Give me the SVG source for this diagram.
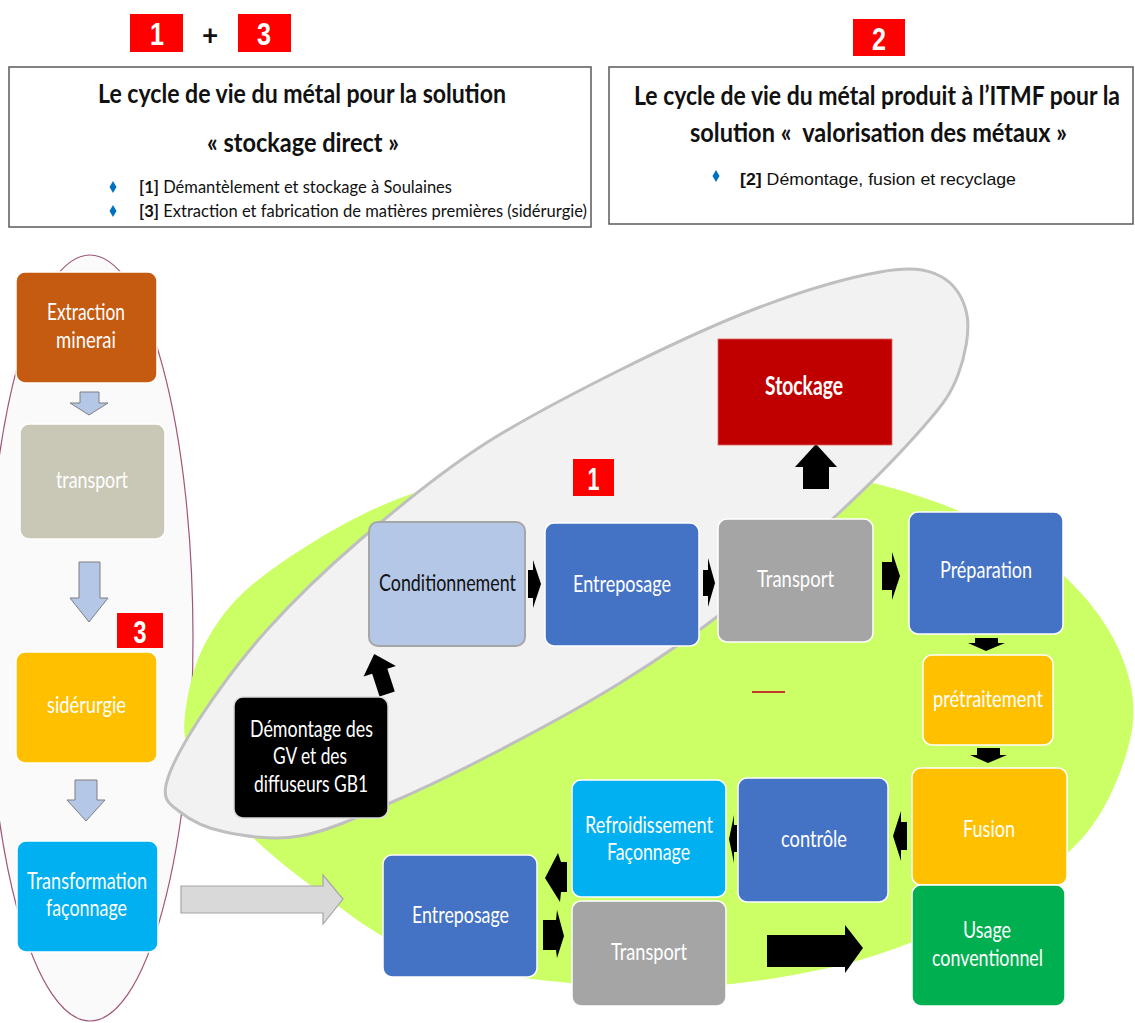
<svg xmlns="http://www.w3.org/2000/svg" width="1135" height="1023" viewBox="0 0 1135 1023">
  <style>
    .f { font-family: Lato, "Open Sans", "Liberation Sans", sans-serif; }
    .ttl { font-size: 27px; font-weight: bold; fill: #111; }
    .bul { font-size: 17px; fill: #111; }
    .bul2 { font-family: "Liberation Sans", Arial, sans-serif; font-size: 17px; fill: #111; }
    .lbl { font-size: 23px; fill: #fff; }
    .dark { fill: #111; }
    .big { font-size: 27px; font-weight: bold; }
    .badge { fill: #FF0000; }
    .bt { font-family: "Liberation Sans", Arial, sans-serif; font-weight: bold; font-size: 31px; fill: #fff; text-anchor: middle; }
    .frame { fill: #fff; stroke: #595959; stroke-width: 1.5; }
    .box { stroke: #fff; stroke-width: 1.5; }
    .diam { fill: #0070C0; }
    .blk { fill: #000; }
    .pale { fill: #B4C7E7; stroke: #7F7F7F; stroke-width: 1; }
  </style>

  <rect width="1135" height="1023" fill="#fff"/>

  <!-- header: two legend frames with their badges -->
  <g id="legend-direct">
    <rect class="badge" x="130" y="14" width="53" height="38"/>
    <text class="bt" x="157" y="45" textLength="14" lengthAdjust="spacingAndGlyphs">1</text>
    <text class="f" x="210" y="45" font-size="28" font-weight="bold" text-anchor="middle" fill="#111">+</text>
    <rect class="badge" x="238" y="14" width="53" height="38"/>
    <text class="bt" x="264" y="45" textLength="14" lengthAdjust="spacingAndGlyphs">3</text>
    <rect class="frame" x="9" y="67" width="582" height="160"/>
    <text class="f ttl" x="98" y="103" textLength="408" lengthAdjust="spacingAndGlyphs">Le cycle de vie du métal pour la solution</text>
    <text class="f ttl" x="207" y="152" textLength="192" lengthAdjust="spacingAndGlyphs">« stockage direct »</text>
    <polygon class="diam" points="113,181 116.5,187 113,193 109.5,187"/>
    <text class="f bul" x="139" y="193" textLength="313" lengthAdjust="spacingAndGlyphs"><tspan font-weight="bold">[1]</tspan> Démantèlement et stockage à Soulaines</text>
    <polygon class="diam" points="113,205 116.5,211 113,217 109.5,211"/>
    <text class="f bul" x="139" y="217" textLength="448" lengthAdjust="spacingAndGlyphs"><tspan font-weight="bold">[3]</tspan> Extraction et fabrication de matières premières (sidérurgie)</text>
  </g>

  <g id="legend-valorisation">
    <rect class="badge" x="853" y="19" width="52" height="37"/>
    <text class="bt" x="879" y="50" textLength="14" lengthAdjust="spacingAndGlyphs">2</text>
    <rect class="frame" x="609" y="67" width="524" height="157"/>
    <!-- long heading line: condensed horizontally so it stays inside the frame -->
    <text class="f ttl" transform="translate(634,105) scale(0.72,1)" x="0" y="0" textLength="675" lengthAdjust="spacingAndGlyphs">Le cycle de vie du métal produit à l’ITMF pour la</text>
    <text class="f ttl" x="690" y="142" textLength="377" lengthAdjust="spacingAndGlyphs">solution «&#160; valorisation des métaux »</text>
    <polygon class="diam" points="716,170 719.5,176 716,182 712.5,176"/>
    <text class="bul2" x="740" y="185" textLength="276" lengthAdjust="spacingAndGlyphs"><tspan font-weight="bold">[2]</tspan> Démontage, fusion et recyclage</text>
  </g>

  <!-- background zones -->
  <g id="zones">
    <ellipse cx="90" cy="638" rx="103" ry="383" fill="#FAFAFA" stroke="#A0557A" stroke-width="1.2"/>
    <path fill="#CCFF66" d="M185 715 C187.3 695,193.3 663.7,207 640 C220.7 616.3,234.8 596.7,267 573 C299.2 549.3,351.2 516.5,400 498 C448.8 479.5,506.7 468,560 462 C613.3 456,667.8 458.5,720 462 C772.2 465.5,826.3 471.7,873 483 C919.7 494.3,965.5 511.8,1000 530 C1034.5 548.2,1059.2 569.5,1080 592 C1100.8 614.5,1116.7 640.3,1125 665 C1133.3 689.7,1136.7 711.7,1130 740 C1123.3 768.3,1108.3 807.5,1085 835 C1061.7 862.5,1027.5 884.2,990 905 C952.5 925.8,908.3 946.3,860 960 C811.7 973.7,750 983.3,700 987 C650 990.7,606.7 987.3,560 982 C513.3 976.7,461.7 971.2,420 955 C378.3 938.8,341.7 908.3,310 885 C278.3 861.7,249.5 835.8,230 815 C210.5 794.2,200.5 776.7,193 760 C185.5 743.3,182.7 735,185 715 Z"/>
    <path fill="#F2F2F2" stroke="#BFBFBF" stroke-width="3" d="M166 785 C169.3 769.3,183.2 743.8,200 718 C216.8 692.2,240.3 659.7,267 630 C293.7 600.3,324.5 570.5,360 540 C395.5 509.5,436.7 475.3,480 447 C523.3 418.7,573.3 393.3,620 370 C666.7 346.7,716.7 323.3,760 307 C803.3 290.7,850 277.2,880 272 C910 266.8,925.5 268.8,940 276 C954.5 283.2,964 298.5,967 315 C970 331.5,965 356.7,958 375 C951 393.3,944.7 402.2,925 425 C905.3 447.8,872.5 481.7,840 512 C807.5 542.3,766.7 578.5,730 607 C693.3 635.5,658.3 659.2,620 683 C581.7 706.8,538.3 730,500 750 C461.7 770,423.3 788.7,390 803 C356.7 817.3,327.5 831.2,300 836 C272.5 840.8,245 836,225 832 C205 828,189.8 819.8,180 812 C170.2 804.2,162.7 800.7,166 785 Z"/>
    <line x1="752" y1="692" x2="785" y2="692" stroke="#C0392B" stroke-width="2"/>
  </g>

  <!-- connectors -->
  <g id="connectors">
    <polygon class="pale" points="80,392 99,392 99,403 108,403 89,415 70,403 80,403"/>
    <polygon class="pale" points="79,562 100,562 100,598 108,598 89,622 70,598 79,598"/>
    <polygon class="pale" points="75,780 97,780 97,800 105,800 86,821 67,800 75,800"/>
    <polygon fill="#D9D9D9" stroke="#A6A6A6" stroke-width="1.2" points="181,886 323,886 323,875 343,899 323,924 323,913 181,913"/>
    <polygon class="blk" transform="translate(381,675) rotate(-18)" points="0,-22 17,-4 8,-4 8,20 -8,20 -8,-4 -17,-4"/>
    <polygon class="blk" points="528,570 533,570 533,560 541,584 533,608 533,598 528,598"/>
    <polygon class="blk" points="703,570 708,570 708,558 715,583 708,607 708,596 703,596"/>
    <polygon class="blk" points="882,562 892,562 892,552 900,576 892,600 892,590 882,590"/>
    <polygon class="blk" points="803,489 803,467 795,467 816,444 837,467 829,467 829,489"/>
    <polygon class="blk" points="975,638 998,638 998,643 1005,643 986,651 968,643 975,643"/>
    <polygon class="blk" points="977,748 1000,748 1000,755 1007,755 988,763 970,755 977,755"/>
    <polygon class="blk" points="907,822 907,850 901,850 901,861 893,836 901,811 901,822"/>
    <polygon class="blk" points="737,825 737,852 734,852 734,863 729,839 734,815 734,825"/>
    <polygon class="blk" points="567,862 567,892 561,892 560,902 545,878 558,853 561,862"/>
    <polygon class="blk" points="543,920 556,920 557,910 564,936 557,958 556,950 543,950"/>
    <polygon class="blk" points="767,935 845,935 845,925 863,948 845,973 845,967 767,967"/>
  </g>

  <!-- extraction chain -->
  <g id="extraction">
    <rect class="box" x="16" y="272" width="141" height="111" rx="9" fill="#C55A11"/>
    <text class="f lbl" x="47" y="320" textLength="78" lengthAdjust="spacingAndGlyphs">Extraction</text>
    <text class="f lbl" x="56" y="348" textLength="60" lengthAdjust="spacingAndGlyphs">minerai</text>
  </g>
  <g id="transport-minerai">
    <rect class="box" x="20" y="424" width="145" height="115" rx="9" fill="#C9C7B6"/>
    <text class="f lbl" x="56" y="488" textLength="72" lengthAdjust="spacingAndGlyphs">transport</text>
  </g>
  <g id="badge-3">
    <rect class="badge" x="117" y="613" width="46" height="35"/>
    <text class="bt" x="140" y="643" textLength="13" lengthAdjust="spacingAndGlyphs">3</text>
  </g>
  <g id="siderurgie">
    <rect class="box" x="16" y="652" width="141" height="111" rx="9" fill="#FFC000"/>
    <text class="f lbl" x="47" y="713" textLength="79" lengthAdjust="spacingAndGlyphs">sidérurgie</text>
  </g>
  <g id="transformation">
    <rect class="box" x="17" y="841" width="141" height="111" rx="9" fill="#00B0F0"/>
    <text class="f lbl" x="27" y="889" textLength="120" lengthAdjust="spacingAndGlyphs">Transformation</text>
    <text class="f lbl" x="46" y="916" textLength="81" lengthAdjust="spacingAndGlyphs">façonnage</text>
  </g>

  <!-- dismantling and storage chain -->
  <g id="demontage">
    <rect x="234" y="697" width="154" height="121" rx="9" fill="#000" stroke="#D9D9D9" stroke-width="1.5"/>
    <text class="f lbl" x="250" y="737" textLength="123" lengthAdjust="spacingAndGlyphs">Démontage des</text>
    <text class="f lbl" x="273" y="764" textLength="74" lengthAdjust="spacingAndGlyphs">GV et des</text>
    <text class="f lbl" x="254" y="792" textLength="114" lengthAdjust="spacingAndGlyphs">diffuseurs GB1</text>
  </g>
  <g id="conditionnement">
    <rect x="369" y="522" width="156" height="124" rx="9" fill="#B4C7E7" stroke="#A6A6A6" stroke-width="2"/>
    <text class="f lbl dark" x="379" y="591" textLength="137" lengthAdjust="spacingAndGlyphs">Conditionnement</text>
  </g>
  <g id="entreposage-1">
    <rect class="box" x="545" y="523" width="154" height="123" rx="9" fill="#4472C4"/>
    <text class="f lbl" x="573" y="592" textLength="98" lengthAdjust="spacingAndGlyphs">Entreposage</text>
  </g>
  <g id="badge-1">
    <rect class="badge" x="573" y="459" width="41" height="37"/>
    <text class="bt" x="593.5" y="490" textLength="12" lengthAdjust="spacingAndGlyphs">1</text>
  </g>
  <g id="transport-1">
    <rect class="box" x="718" y="519" width="155" height="123" rx="9" fill="#A5A5A5"/>
    <text class="f lbl" x="757" y="587" textLength="77" lengthAdjust="spacingAndGlyphs">Transport</text>
  </g>
  <g id="stockage">
    <rect x="718" y="339" width="174" height="106" fill="#C00000" stroke="#E06666" stroke-width="0.8"/>
    <text class="f lbl big" x="765" y="395" textLength="78" lengthAdjust="spacingAndGlyphs">Stockage</text>
  </g>

  <!-- melting and recycling chain -->
  <g id="preparation">
    <rect class="box" x="909" y="512" width="154" height="122" rx="9" fill="#4472C4"/>
    <text class="f lbl" x="940" y="578" textLength="92" lengthAdjust="spacingAndGlyphs">Préparation</text>
  </g>
  <g id="pretraitement">
    <rect class="box" x="923" y="655" width="130" height="90" rx="9" fill="#FFC000"/>
    <text class="f lbl" x="933" y="707" textLength="110" lengthAdjust="spacingAndGlyphs">prétraitement</text>
  </g>
  <g id="fusion">
    <rect class="box" x="912" y="768" width="155" height="117" rx="9" fill="#FFC000"/>
    <text class="f lbl" x="963" y="837" textLength="52" lengthAdjust="spacingAndGlyphs">Fusion</text>
  </g>
  <g id="usage">
    <rect class="box" x="912" y="885" width="153" height="121" rx="9" fill="#00B050"/>
    <text class="f lbl" x="963" y="938" textLength="48" lengthAdjust="spacingAndGlyphs">Usage</text>
    <text class="f lbl" x="932" y="966" textLength="111" lengthAdjust="spacingAndGlyphs">conventionnel</text>
  </g>
  <g id="controle">
    <rect class="box" x="738" y="778" width="150" height="124" rx="9" fill="#4472C4"/>
    <text class="f lbl" x="781" y="847" textLength="66" lengthAdjust="spacingAndGlyphs">contrôle</text>
  </g>
  <g id="refroidissement">
    <rect class="box" x="572" y="780" width="154" height="117" rx="9" fill="#00B0F0"/>
    <text class="f lbl" x="585" y="833" textLength="128" lengthAdjust="spacingAndGlyphs">Refroidissement</text>
    <text class="f lbl" x="607" y="860" textLength="83" lengthAdjust="spacingAndGlyphs">Façonnage</text>
  </g>
  <g id="transport-2">
    <rect class="box" x="572" y="901" width="154" height="105" rx="9" fill="#A5A5A5"/>
    <text class="f lbl" x="611" y="960" textLength="76" lengthAdjust="spacingAndGlyphs">Transport</text>
  </g>
  <g id="entreposage-2">
    <rect class="box" x="383" y="855" width="154" height="122" rx="9" fill="#4472C4"/>
    <text class="f lbl" x="412" y="923" textLength="97" lengthAdjust="spacingAndGlyphs">Entreposage</text>
  </g>
</svg>
